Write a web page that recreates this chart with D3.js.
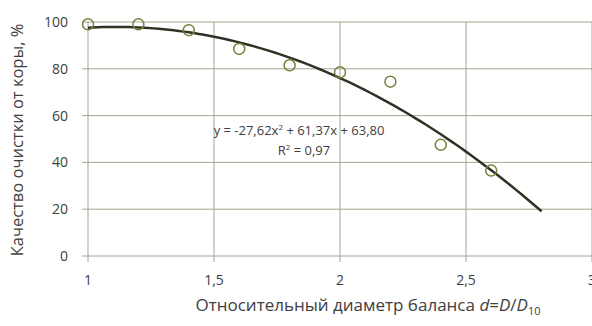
<!DOCTYPE html>
<html>
<head>
<meta charset="utf-8">
<script src="https://cdn.jsdelivr.net/npm/d3@7"></script>
<style>
  body { margin: 0; background: #fff; }
  text { font-family: "Open Sans", "Noto Sans", sans-serif; fill: #404040; }
</style>
</head>
<body>
<div id="chart"></div>
<script>
// measured points: relative diameter vs bark cleaning quality
const diam = [1, 1.2, 1.4, 1.6, 1.8, 2.0, 2.2, 2.4, 2.6];
const quality = [99, 99, 96.5, 88.5, 81.5, 78.5, 74.5, 47.5, 36.5];
// trend line coefficients as printed on the chart
const trendCoef = [-27.62, 61.37, 63.80];
const trendRange = [1, 2.8];
const xTicks = [1, 1.5, 2, 2.5, 3];
const yTicks = [0, 20, 40, 60, 80, 100];

const width = 592, height = 326;
const svg = d3.select("#chart").append("svg")
    .attr("width", width)
    .attr("height", height);

const x = d3.scaleLinear().domain([1, 3]).range([88, 592]);
const y = d3.scaleLinear().domain([0, 100]).range([256, 22]);

// horizontal grid
svg.append("g")
    .selectAll("line")
    .data(yTicks)
    .join("line")
    .attr("x1", x(1) - 6)
    .attr("x2", width)
    .attr("y1", d => y(d))
    .attr("y2", d => y(d))
    .attr("stroke", "#a3a693")
    .attr("stroke-width", 1);

// vertical grid + ticks
svg.append("g")
    .selectAll("line")
    .data(xTicks)
    .join("line")
    .attr("x1", d => x(d))
    .attr("x2", d => x(d))
    .attr("y1", y(100))
    .attr("y2", y(0) + 6)
    .attr("stroke", "#a3a693")
    .attr("stroke-width", 1);

// tick labels
svg.append("g")
    .selectAll("text")
    .data(yTicks)
    .join("text")
    .attr("x", 68)
    .attr("y", d => y(d))
    .attr("dy", "0.36em")
    .attr("text-anchor", "end")
    .attr("font-size", "14px")
    .text(d => d);

svg.append("g")
    .selectAll("text")
    .data(xTicks)
    .join("text")
    .attr("x", d => x(d))
    .attr("y", 280)
    .attr("dy", "0.36em")
    .attr("text-anchor", "middle")
    .attr("font-size", "14px")
    .text(d => String(d).replace(".", ","));

// trend line
const trend = d3.range(trendRange[0], trendRange[1] + 0.001, 0.02)
    .map(v => [v, trendCoef[0] * v * v + trendCoef[1] * v + trendCoef[2]]);

svg.append("path")
    .datum(trend)
    .attr("d", d3.line().x(d => x(d[0])).y(d => y(d[1])))
    .attr("fill", "none")
    .attr("stroke", "#2c3424")
    .attr("stroke-width", 2.5);

// points
svg.append("g")
    .selectAll("circle")
    .data(diam)
    .join("circle")
    .attr("cx", d => x(d))
    .attr("cy", (d, i) => y(quality[i]))
    .attr("r", 5.5)
    .attr("fill", "none")
    .attr("stroke", "#7b7f3c")
    .attr("stroke-width", 1.5);

// equation
const eq = svg.append("text")
    .attr("x", 299)
    .attr("y", 135)
    .attr("text-anchor", "middle")
    .attr("font-size", "13px")
    .attr("fill", "#222");
eq.append("tspan").text("y = -27,62x");
eq.append("tspan").attr("font-size", "8px").attr("dy", "-5").text("2");
eq.append("tspan").attr("dy", "5").text(" + 61,37x + 63,80");

const r2 = svg.append("text")
    .attr("x", 304)
    .attr("y", 155)
    .attr("text-anchor", "middle")
    .attr("font-size", "13px")
    .attr("fill", "#222");
r2.append("tspan").text("R");
r2.append("tspan").attr("font-size", "8px").attr("dy", "-5").text("2");
r2.append("tspan").attr("dy", "5").text(" = 0,97");

// axis titles
svg.append("text")
    .attr("transform", "translate(23," + 140 + ") rotate(-90)")
    .attr("text-anchor", "middle")
    .attr("font-size", "16.5px")
    .text("Качество очистки от коры, %");

const xt = svg.append("text")
    .attr("x", 368)
    .attr("y", 311)
    .attr("text-anchor", "middle")
    .attr("font-size", "17px");
xt.append("tspan").text("Относительный диаметр баланса ");
xt.append("tspan").attr("font-style", "italic").text("d");
xt.append("tspan").text("=");
xt.append("tspan").attr("font-style", "italic").text("D");
xt.append("tspan").text("/");
xt.append("tspan").attr("font-style", "italic").text("D");
xt.append("tspan").attr("font-size", "11px").attr("dy", "4").text("10");
</script>
</body>
</html>
